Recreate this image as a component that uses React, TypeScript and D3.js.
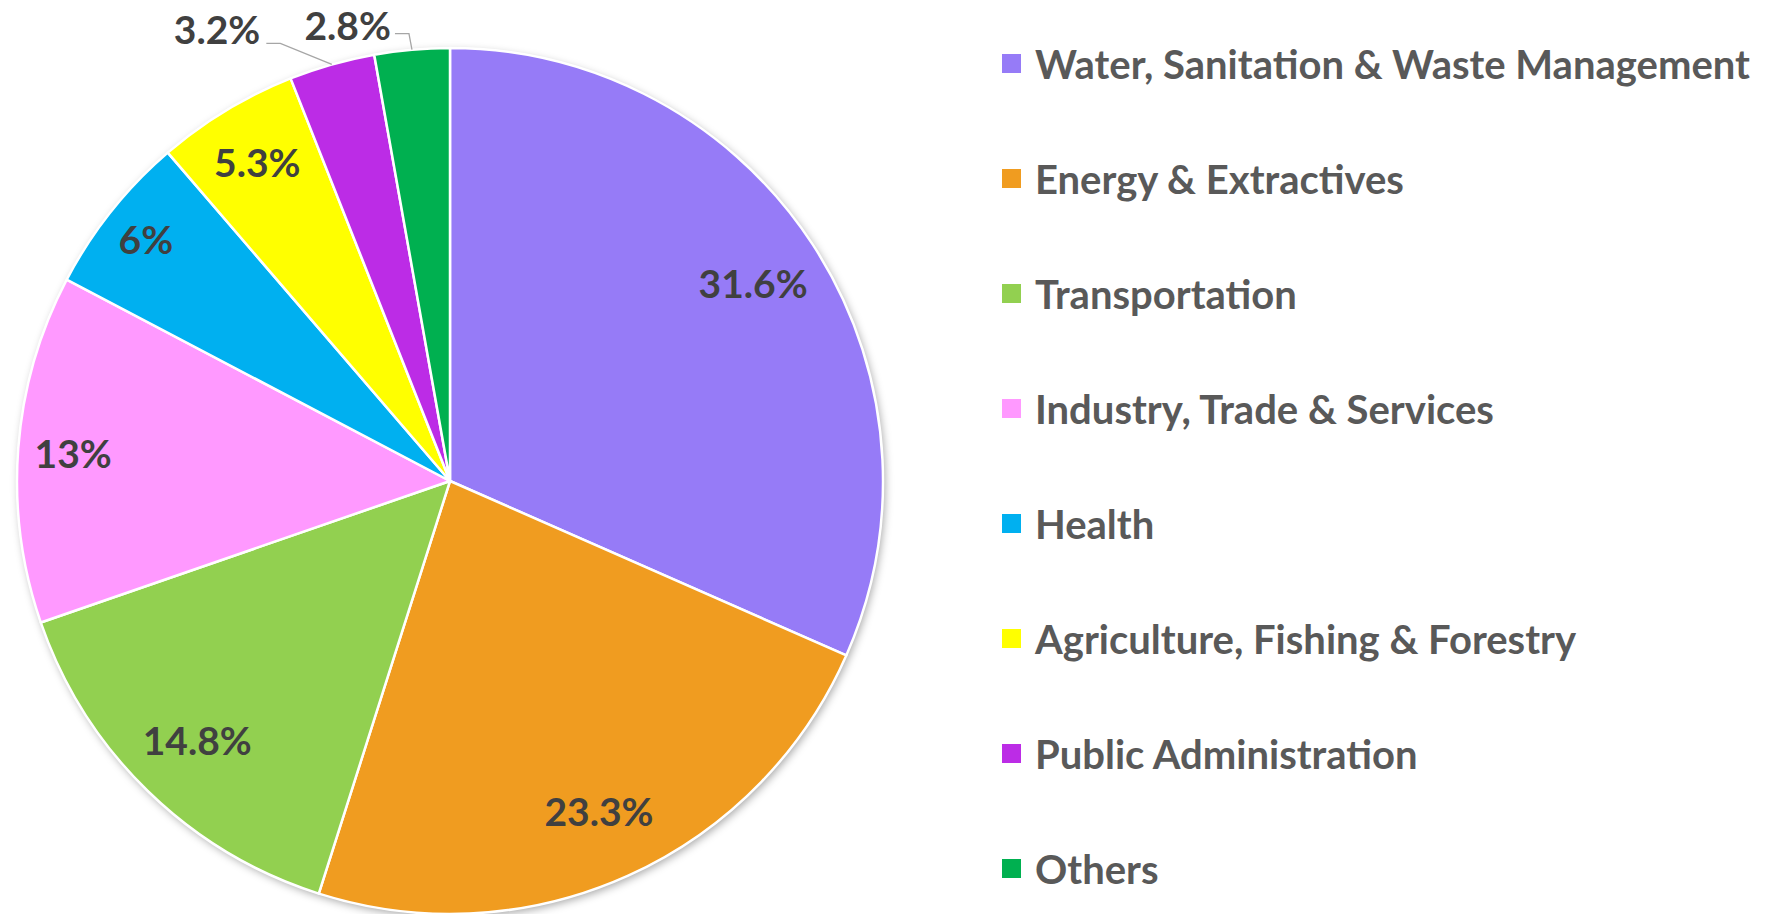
import React from "react";
import * as d3 from "d3";

const categories = [
  "Water, Sanitation & Waste Management",
  "Energy & Extractives",
  "Transportation",
  "Industry, Trade & Services",
  "Health",
  "Agriculture, Fishing & Forestry",
  "Public Administration",
  "Others",
];
const values = [31.6, 23.3, 14.8, 13, 6, 5.3, 3.2, 2.8];
const labels = ["31.6%", "23.3%", "14.8%", "13%", "6%", "5.3%", "3.2%", "2.8%"];
const colors = ["#967BF7", "#F09C20", "#92D050", "#FF99FF", "#00B0F0", "#FFFF00", "#BC2CE6", "#00B050"];

const W = 1774;
const H = 914;
const CX = 450;
const CY = 481;
const R = 433;
const FONT = "Lato, 'Open Sans', sans-serif";
const LABEL_FS = 39;
const LEGEND_FS = 40;

function estWidth(s: string, fs: number) {
  let w = 0;
  for (const c of s) w += c === "." ? 0.27 : c === "%" ? 0.8 : 0.55;
  return w * fs;
}

export default function App() {
  const data = categories.map((c, i) => ({ name: c, value: values[i], label: labels[i], color: colors[i] }));
  const pie = d3.pie<any>().sort(null).value((d) => d.value);
  const arcs = pie(data);
  const arc = d3.arc<any>().innerRadius(0).outerRadius(R);

  const legendY = d3.scalePoint<string>().domain(categories).range([64, 869]);

  const inside: any[] = [];
  const outside: any[] = [];
  arcs.forEach((a, i) => {
    const mid = (a.startAngle + a.endAngle) / 2;
    const dx = Math.sin(mid);
    const dy = -Math.cos(mid);
    const frac = a.endAngle - a.startAngle;
    if (frac > 0.25) {
      const hw = estWidth(labels[i], LABEL_FS) / 2;
      const r = R - 18 - hw;
      inside.push({ x: CX + r * dx, y: CY + r * dy, text: labels[i] });
    } else {
      outside.push({ i, mid, dx, dy });
    }
  });
  outside.sort((a, b) => b.mid - a.mid);
  const outPlaced: any[] = [];
  let prevLeft = Infinity;
  outside.forEach((o) => {
    const rimX = CX + R * o.dx;
    const rimY = CY + R * o.dy;
    let elbowY = rimY - 16;
    let elbowX = rimX - 3;
    const w = estWidth(labels[o.i], LABEL_FS);
    let textRight = elbowX - 14 - 4;
    if (textRight > prevLeft - 46) {
      textRight = prevLeft - 46;
      elbowX = textRight + 4 + 16;
      elbowY = rimY - 21;
    }
    prevLeft = textRight - w;
    outPlaced.push({
      pts: [
        [rimX, rimY],
        [elbowX, elbowY],
        [elbowX - 14, elbowY],
      ],
      tx: textRight,
      ty: Math.max(elbowY + 1, LABEL_FS + 1),
      text: labels[o.i],
    });
  });
  const line = d3.line();

  return (
    <svg width={W} height={H} style={{ position: "absolute", left: 0, top: 0, background: "#fff" }}>
      <defs>
        <filter id="sh" x="-10%" y="-10%" width="120%" height="120%">
          <feDropShadow dx="2" dy="3" stdDeviation="4" floodColor="#000" floodOpacity="0.35" />
        </filter>
      </defs>
      <g transform={`translate(${CX},${CY})`}>
        <circle r={R} fill="#fff" filter="url(#sh)" />
        {arcs.map((a, i) => (
          <path key={i} d={arc(a) as string} fill={a.data.color} stroke="#fff" strokeWidth={2.5} strokeLinejoin="round" />
        ))}
      </g>
      {inside.map((l, i) => (
        <text
          key={i}
          x={l.x}
          y={l.y}
          textAnchor="middle"
          dominantBaseline="central"
          fontFamily={FONT}
          fontWeight={700}
          fontSize={LABEL_FS}
          fill="#404040"
        >
          {l.text}
        </text>
      ))}
      {outPlaced.map((o, i) => (
        <g key={i}>
          <path d={line(o.pts as any) as string} fill="none" stroke="#A6A6A6" strokeWidth={1.3} />
          <text
            x={o.tx}
            y={o.ty}
            textAnchor="end"
            fontFamily={FONT}
            fontWeight={700}
            fontSize={LABEL_FS}
            fill="#404040"
          >
            {o.text}
          </text>
        </g>
      ))}
      {data.map((d) => (
        <g key={d.name} transform={`translate(1002,${legendY(d.name)})`}>
          <rect x={0} y={-10} width={19} height={19} fill={d.color} />
          <text
            x={33}
            y={0}
            dominantBaseline="central"
            fontFamily={FONT}
            fontWeight={700}
            fontSize={LEGEND_FS}
            fill="#595959"
          >
            {d.name}
          </text>
        </g>
      ))}
    </svg>
  );
}
